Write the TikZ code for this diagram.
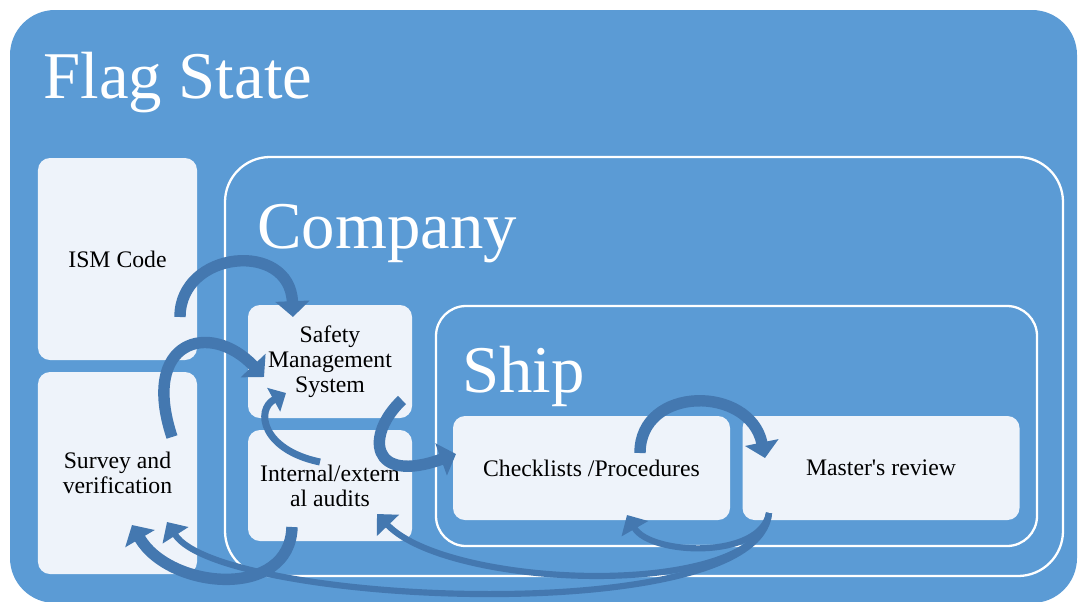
\documentclass[tikz,border=0pt]{standalone}
\usepackage{fontspec}
\setmainfont{Liberation Serif}
\usetikzlibrary{arrows.meta}
\definecolor{flagblue}{RGB}{91,155,213}
\definecolor{boxfill}{RGB}{238,243,250}
\definecolor{arrowblue}{RGB}{68,120,176}
\begin{document}
\begin{tikzpicture}[x=0.2mm,y=0.2mm,
		box/.style={fill=boxfill,rounded corners=2.4mm,inner sep=2pt,align=center,
			font=\fontsize{13.5}{14.2}\selectfont},
		title/.style={anchor=base west,inner sep=0pt,text=white,font=\fontsize{38}{40}\selectfont},
		frame/.style={draw=white,line width=1.3pt},
		curved/.style={arrowblue,line width=6.5pt,-{Triangle[length=9pt,width=19pt]}},
		thin/.style={arrowblue,line width=4pt,-{Triangle[length=8pt,width=15pt]}},
		long/.style={arrowblue,line width=3.5pt,-{Triangle[length=9pt,width=17pt]}}]
		\useasboundingbox (0,0) rectangle (1078,-601);
		\fill [flagblue,rounded corners=9mm] (10,-10) rectangle (1077,-603);
		\node [title] (flag) at (43,-98) {Flag State};
		\draw [frame,rounded corners=9mm] (225,-157) rectangle (1063,-576);
		\node [title] (company) at (257,-248) {Company};
		\draw [frame,rounded corners=6mm] (436,-306) rectangle (1037,-546);
		\node [title] (ship) at (462,-392) {Ship};
		\node [box,minimum width=31.8mm,minimum height=40.4mm] (ism) at (117.5,-259) {ISM Code};
		\node [box,minimum width=31.8mm,minimum height=40.4mm] (survey) at (117.5,-473) {Survey and\\verification};
		\node [box,minimum width=32.8mm,minimum height=22.6mm] (sms) at (330,-361.5) {Safety\\Management\\System};
		\node [box,minimum width=32.8mm,minimum height=22.2mm] (audits) at (330,-485.5) {Internal/extern\\al audits};
		\node [box,minimum width=55.4mm,minimum height=20.8mm] (check) at (591.5,-468) {Checklists /Procedures};
		\node [box,minimum width=55.4mm,minimum height=20.8mm] (master) at (881,-468) {Master\textquotesingle s review};
		\coordinate (ismout) at (180,-317);
		\coordinate (smsin) at (293,-317);
		\coordinate (surveyout) at (172,-437);
		\coordinate (smsleft) at (264,-377);
		\coordinate (auditsout) at (320,-462);
		\coordinate (smsbottom) at (286,-393);
		\coordinate (smsout) at (402,-400);
		\coordinate (checkin) at (456,-454);
		\coordinate (checkout) at (640,-453);
		\coordinate (masterin) at (765,-458);
		\coordinate (masterout) at (769,-513);
		\coordinate (checkback) at (627,-515);
		\coordinate (auditsin) at (377,-514);
		\coordinate (auditsdown) at (292,-527);
		\coordinate (surveyin) at (132,-525);
		\coordinate (surveyback) at (167,-522);
		\draw [curved] (ismout) .. controls (180,-250) and (290,-240) .. (smsin);
		\draw [curved] (surveyout) .. controls (140,-340) and (210,-320) .. (smsleft);
		\draw [thin] (auditsout) .. controls (262,-450) and (255,-410) .. (smsbottom);
		\draw [curved] (smsout) .. controls (365,-435) and (370,-485) .. (checkin);
		\draw [curved] (checkout) .. controls (640,-385) and (750,-385) .. (masterin);
		\draw [curved] (auditsdown) .. controls (290,-600) and (170,-590) .. (surveyin);
		\draw [long] (masterout) .. controls (760,-560) and (650,-555) .. (checkback);
		\draw [long] (masterout) .. controls (760,-600) and (450,-590) .. (auditsin);
		\draw [long] (masterout) .. controls (760,-630) and (220,-605) .. (surveyback);
	\end{tikzpicture}
\end{document}
